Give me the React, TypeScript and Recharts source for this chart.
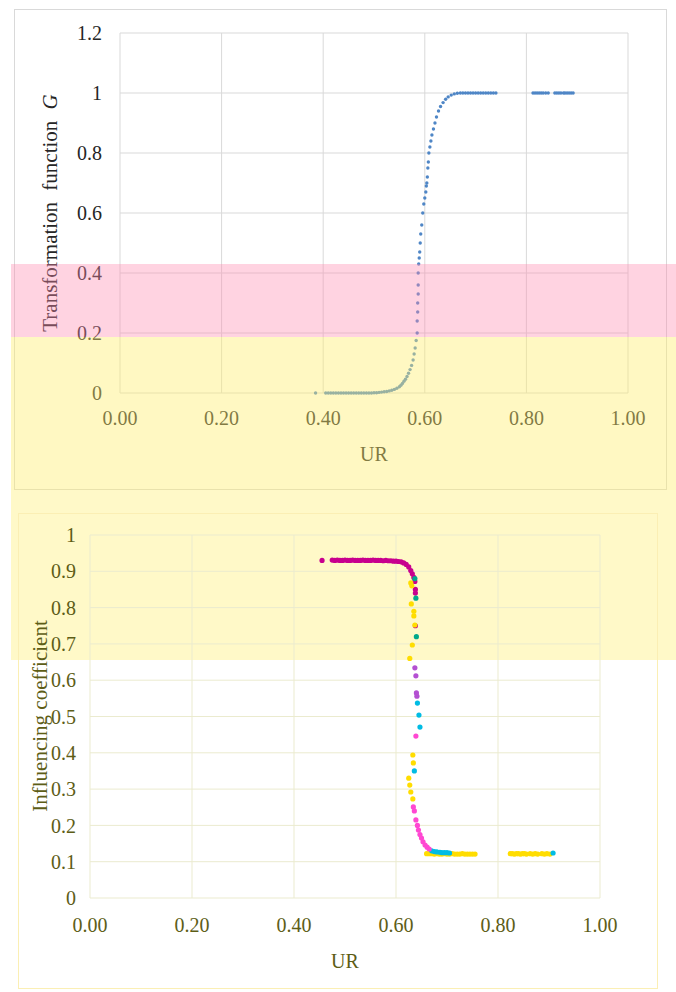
import React from 'react';
import { CartesianGrid, Label, Scatter, ScatterChart, XAxis, YAxis } from 'recharts';

// upper panel: transformation function G against UR
const topUR = [
  0.385, 0.405, 0.41, 0.415, 0.42, 0.425, 0.43, 0.435, 0.44, 0.445, 0.45, 0.455, 0.46, 0.465, 0.47, 0.475,
  0.48, 0.485, 0.49, 0.495, 0.5, 0.505, 0.51, 0.515, 0.52, 0.525, 0.53, 0.535, 0.54, 0.545, 0.55, 0.553,
  0.556, 0.559, 0.562, 0.565, 0.568, 0.571, 0.574, 0.577, 0.579, 0.581, 0.583, 0.585, 0.585, 0.586, 0.586,
  0.587, 0.587, 0.587, 0.588, 0.589, 0.59, 0.591, 0.592, 0.594, 0.596, 0.598, 0.6, 0.602, 0.603, 0.604,
  0.605, 0.606, 0.607, 0.608, 0.61, 0.612, 0.614, 0.617, 0.62, 0.623, 0.627, 0.631, 0.636, 0.641, 0.646,
  0.652, 0.658, 0.664, 0.67, 0.675, 0.68, 0.685, 0.69, 0.695, 0.7, 0.705, 0.71, 0.715, 0.72, 0.725, 0.73,
  0.735, 0.74, 0.813, 0.817, 0.821, 0.825, 0.829, 0.833, 0.838, 0.843, 0.856, 0.86, 0.864, 0.868, 0.873,
  0.876, 0.88, 0.884, 0.888, 0.892,
];
const topG = [
  0, 0, 0, 0, 0, 0, 0, 0, 0, 0, 0, 0, 0, 0, 0, 0,
  0, 0, 0, 0, 0.001, 0.001, 0.002, 0.003, 0.004, 0.005, 0.007, 0.009, 0.012, 0.016, 0.021, 0.026,
  0.032, 0.039, 0.046, 0.055, 0.066, 0.078, 0.092, 0.11, 0.13, 0.15, 0.175, 0.2, 0.24, 0.27, 0.3,
  0.33, 0.36, 0.4, 0.43, 0.45, 0.47, 0.5, 0.53, 0.56, 0.6, 0.63, 0.65, 0.67, 0.69, 0.7,
  0.72, 0.75, 0.77, 0.8, 0.82, 0.84, 0.86, 0.88, 0.9, 0.92, 0.94, 0.955, 0.968, 0.979, 0.987,
  0.993, 0.997, 0.999, 1, 1, 1, 1, 1, 1, 1, 1, 1, 1, 1, 1, 1,
  1, 1, 1, 1, 1, 1, 1, 1, 1, 1, 1, 1, 1, 1, 1,
  1, 1, 1, 1, 1,
];

// lower panel: influencing coefficient against UR, one list per colour
const magentaUR = [
  0.455, 0.475, 0.48, 0.485, 0.49, 0.495, 0.5, 0.505, 0.51, 0.515, 0.52, 0.525, 0.53, 0.535, 0.54, 0.545,
  0.55, 0.555, 0.56, 0.565, 0.57, 0.575, 0.58, 0.585, 0.59, 0.595, 0.6, 0.605, 0.61, 0.615, 0.62, 0.625,
  0.629, 0.632, 0.635, 0.637, 0.638, 0.638, 0.638,
];
const magentaCoef = [
  0.93, 0.931, 0.93, 0.931, 0.93, 0.93, 0.931, 0.93, 0.93, 0.931, 0.93, 0.93, 0.93, 0.931, 0.93, 0.93,
  0.93, 0.931, 0.93, 0.93, 0.93, 0.929, 0.93, 0.929, 0.929, 0.928, 0.928, 0.927, 0.926, 0.923, 0.919, 0.912,
  0.902, 0.893, 0.883, 0.872, 0.85, 0.84, 0.75,
];
const yellowUR = [
  0.629, 0.631, 0.63, 0.635, 0.635, 0.637, 0.632, 0.627, 0.633, 0.634, 0.625, 0.627, 0.629, 0.633,
  0.66, 0.665, 0.67, 0.675, 0.68, 0.685, 0.69, 0.695, 0.7, 0.705, 0.71, 0.715, 0.72, 0.725, 0.73, 0.735,
  0.74, 0.745, 0.75, 0.755, 0.824, 0.828, 0.832, 0.836, 0.84, 0.844, 0.848, 0.852, 0.856, 0.863, 0.868,
  0.873, 0.878, 0.886, 0.891, 0.896, 0.902,
];
const yellowCoef = [
  0.868, 0.86, 0.81, 0.79, 0.777, 0.752, 0.697, 0.66, 0.394, 0.372, 0.33, 0.311, 0.292, 0.273,
  0.122, 0.122, 0.122, 0.121, 0.122, 0.121, 0.121, 0.122, 0.121, 0.121, 0.122, 0.121, 0.121, 0.121, 0.122, 0.121,
  0.121, 0.121, 0.121, 0.121, 0.122, 0.122, 0.121, 0.122, 0.122, 0.121, 0.122, 0.122, 0.121, 0.122, 0.121,
  0.122, 0.121, 0.122, 0.121, 0.122, 0.121,
];
const tealUR = [0.637, 0.639, 0.64];
const tealCoef = [0.88, 0.826, 0.72];
const purpleUR = [0.637, 0.639, 0.64, 0.641];
const purpleCoef = [0.634, 0.612, 0.565, 0.556];
const cyanUR = [0.642, 0.645, 0.647, 0.636, 0.67, 0.675, 0.68, 0.686, 0.69, 0.695, 0.7, 0.705, 0.908];
const cyanCoef = [0.537, 0.504, 0.471, 0.35, 0.13, 0.128, 0.127, 0.126, 0.125, 0.125, 0.125, 0.124, 0.124];
const pinkUR = [0.639, 0.634, 0.636, 0.639, 0.642, 0.644, 0.647, 0.65, 0.653, 0.657, 0.661, 0.665];
const pinkCoef = [0.446, 0.251, 0.24, 0.215, 0.2, 0.187, 0.175, 0.165, 0.155, 0.146, 0.14, 0.135];

const urTicks = [0, 0.2, 0.4, 0.6, 0.8, 1];
const gTicks = [0, 0.2, 0.4, 0.6, 0.8, 1, 1.2];
const coefTicks = [0, 0.1, 0.2, 0.3, 0.4, 0.5, 0.6, 0.7, 0.8, 0.9, 1];

const zip = (xs: number[], ys: number[]) => xs.map((x, i) => ({ ur: x, v: ys[i] }));

const topData = zip(topUR, topG);
const lowerSeries = [
  { name: 'magenta', colour: '#C8008E', data: zip(magentaUR, magentaCoef) },
  { name: 'yellow', colour: '#FFDD00', data: zip(yellowUR, yellowCoef) },
  { name: 'teal', colour: '#00A98A', data: zip(tealUR, tealCoef) },
  { name: 'purple', colour: '#B450D2', data: zip(purpleUR, purpleCoef) },
  { name: 'cyan', colour: '#00BCE4', data: zip(cyanUR, cyanCoef) },
  { name: 'pink', colour: '#FF48D2', data: zip(pinkUR, pinkCoef) },
];

const FONT = '"Liberation Serif", "Times New Roman", serif';
const topInk = '#262626';
const lowInk = '#5d5d16';

const numLabel = (v: number) => String(Number(v.toFixed(1)));

// small round markers, sized like the original
const dot = (r: number) => (props: any) => <circle cx={props.cx} cy={props.cy} r={r} fill={props.fill} />;

const TopTitle = () => (
  <text
    x={50}
    y={213}
    transform="rotate(-90 50 213)"
    textAnchor="middle"
    dominantBaseline="central"
    fontFamily={FONT}
    fontSize={21}
    wordSpacing={6}
    fill={topInk}
  >
    Transformation function <tspan fontStyle="italic">G</tspan>
  </text>
);

const LowTitle = () => (
  <text
    x={40}
    y={216}
    transform="rotate(-90 40 216)"
    textAnchor="middle"
    dominantBaseline="central"
    fontFamily={FONT}
    fontSize={21}
    fill={lowInk}
  >
    Influencing coefficient
  </text>
);

const App: React.FC = () => (
  <div style={styles.page}>
    {/* yellow band behind the lower panel */}
    <div style={{ ...styles.band, top: 490, height: 170, background: '#FFF9C8', zIndex: 0 }} />
    <div style={styles.topBox} />
    <div style={styles.lowBox} />

    <div style={{ position: 'absolute', left: 0, top: 0, zIndex: 1 }}>
      <ScatterChart width={676} height={500} margin={{ top: 33, right: 48, left: 60, bottom: 37 }}>
        <CartesianGrid stroke="#d9d9d9" />
        <XAxis
          type="number"
          dataKey="ur"
          domain={[0, 1]}
          ticks={urTicks}
          tickFormatter={(v: number) => v.toFixed(2)}
          axisLine={false}
          tickLine={false}
          tickMargin={12}
          height={70}
          tick={{ fontFamily: FONT, fontSize: 20, fill: topInk }}
        >
          <Label value="UR" position="insideBottom" offset={2} style={{ fontFamily: FONT, fontSize: 20, fill: topInk }} />
        </XAxis>
        <YAxis
          type="number"
          dataKey="v"
          domain={[0, 1.2]}
          ticks={gTicks}
          tickFormatter={numLabel}
          axisLine={false}
          tickLine={false}
          tickMargin={12}
          width={60}
          tick={{ fontFamily: FONT, fontSize: 20, fill: topInk }}
        >
          <Label content={TopTitle} />
        </YAxis>
        <Scatter data={topData} fill="#4F86C6" shape={dot(1.7)} isAnimationActive={false} />
      </ScatterChart>
    </div>

    {/* tinted bands laid over the upper panel */}
    <div style={{ ...styles.band, top: 264, height: 73, background: 'rgba(255,140,175,0.38)', zIndex: 2 }} />
    <div style={{ ...styles.band, top: 337, height: 153, background: 'rgba(255,238,110,0.42)', zIndex: 2 }} />

    <div style={{ position: 'absolute', left: 0, top: 500, zIndex: 1 }}>
      <ScatterChart width={676} height={492} margin={{ top: 35, right: 76, left: 40, bottom: 24 }}>
        <CartesianGrid stroke="#ebebcf" />
        <XAxis
          type="number"
          dataKey="ur"
          domain={[0, 1]}
          ticks={urTicks}
          tickFormatter={(v: number) => v.toFixed(2)}
          axisLine={false}
          tickLine={false}
          tickMargin={14}
          height={70}
          tick={{ fontFamily: FONT, fontSize: 20, fill: lowInk }}
        >
          <Label value="UR" position="insideBottom" offset={0} style={{ fontFamily: FONT, fontSize: 20, fill: lowInk }} />
        </XAxis>
        <YAxis
          type="number"
          dataKey="v"
          domain={[0, 1]}
          ticks={coefTicks}
          tickFormatter={numLabel}
          axisLine={false}
          tickLine={false}
          tickMargin={8}
          width={50}
          tick={{ fontFamily: FONT, fontSize: 20, fill: lowInk }}
        >
          <Label content={LowTitle} />
        </YAxis>
        {lowerSeries.map((s) => (
          <Scatter key={s.name} name={s.name} data={s.data} fill={s.colour} shape={dot(2.6)} isAnimationActive={false} />
        ))}
      </ScatterChart>
    </div>
  </div>
);

const styles: Record<string, React.CSSProperties> = {
  page: {
    position: 'absolute',
    left: 0,
    top: 0,
    width: 676,
    height: 992,
    background: '#fff',
    overflow: 'hidden',
  },
  band: {
    position: 'absolute',
    left: 11,
    width: 665,
    pointerEvents: 'none',
  },
  topBox: {
    position: 'absolute',
    left: 14,
    top: 9,
    width: 653,
    height: 481,
    border: '1px solid #d9d9d9',
    boxSizing: 'border-box',
  },
  lowBox: {
    position: 'absolute',
    left: 18,
    top: 513,
    width: 640,
    height: 476,
    border: '1px solid #fbefb4',
    boxSizing: 'border-box',
  },
};

export default App;
